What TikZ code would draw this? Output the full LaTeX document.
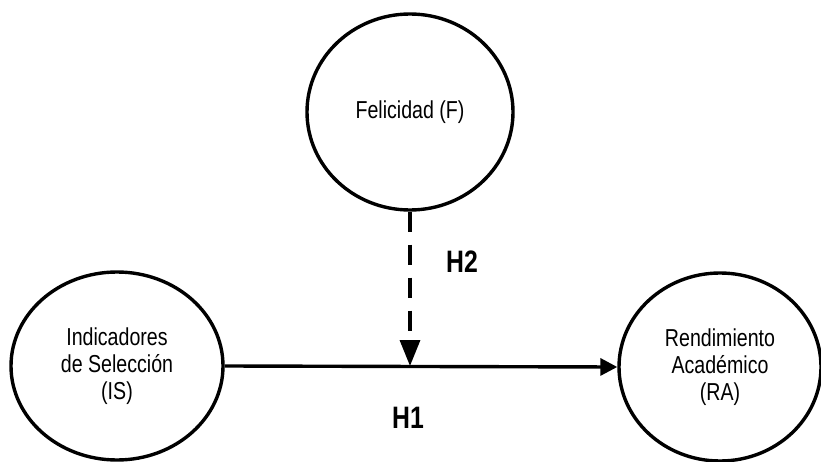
\documentclass[tikz,border=0pt]{standalone}
\usepackage{fontspec}
\setmainfont{Liberation Sans}[FakeStretch=0.8]
\usetikzlibrary{shapes.geometric,arrows.meta}
\begin{document}
\begin{tikzpicture}[x=1pt,y=-1pt,
  var/.style={draw=black,line width=3.4pt,ellipse,inner sep=0pt,align=center,
    font=\fontsize{24.5}{27}\selectfont,text=black},
  hyp/.style={font=\fontsize{31}{34}\bfseries\selectfont},
  conn/.style={line width=3.4pt,-{Triangle[length=17pt,width=17pt]}},
  dconn/.style={line width=3.4pt,dash pattern=on 20pt off 13pt,-{Triangle[length=26pt,width=20pt]}}]
\useasboundingbox (0,0) rectangle (821,462);
\node[var,minimum width=206pt,minimum height=196pt] (F) at (410,112) {Felicidad (F)};
\node[var,minimum width=212pt,minimum height=188pt] (IS) at (117,366) {Indicadores\\de Selección\\(IS)};
\node[var,minimum width=202pt,minimum height=188pt] (RA) at (720,367) {Rendimiento\\Académico\\(RA)};
\coordinate (m) at (410,366);
\draw[conn] (IS.east) -- (RA.west);
\draw[dconn] (F.south) -- (m);
\node[hyp] (H2) at (462,262) {H2};
\node[hyp] (H1) at (408,418) {H1};
\end{tikzpicture}
\end{document}
